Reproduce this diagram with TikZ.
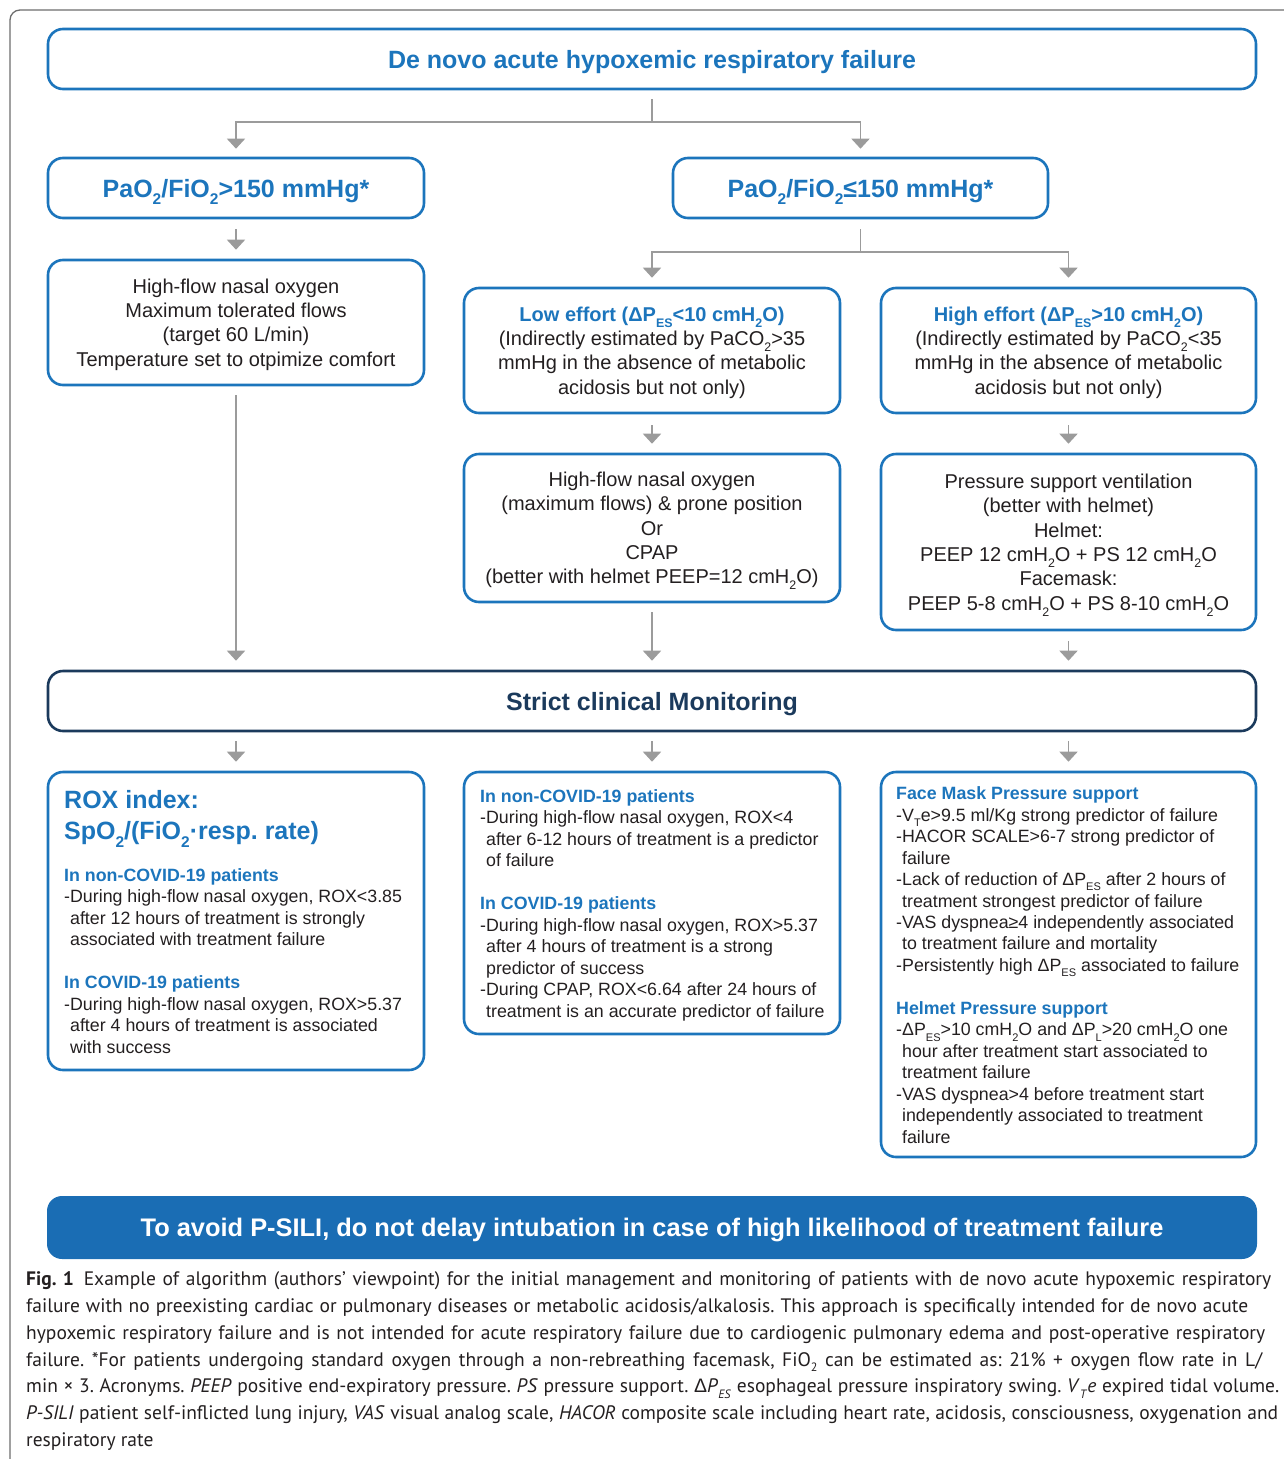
\documentclass[tikz,border=0pt]{standalone}
\usepackage{fontspec}
\usepackage{graphicx}
\setmainfont{Liberation Sans}
\newfontfamily\capfont{PT Sans}
\newfontfamily\lsans{Liberation Sans}
\usetikzlibrary{arrows.meta}
\definecolor{bblue}{HTML}{1C75BC}
\definecolor{navy}{HTML}{1B3A5C}
\definecolor{bannerc}{HTML}{1A6DB4}
\definecolor{agray}{HTML}{9B9B9B}
\definecolor{txt}{HTML}{231F20}
\definecolor{framec}{HTML}{6D6D6D}
\frenchspacing
\newcommand{\sbs}[1]{\raisebox{-0.3em}{\scalebox{0.62}{#1}}}
\newcommand{\bigf}{\fontsize{25pt}{30pt}\selectfont\bfseries}
\newcommand{\bannerf}{\fontsize{25.4pt}{30pt}\selectfont\bfseries}
\newcommand{\bodyf}{\fontsize{20pt}{24.3pt}\selectfont}
\newcommand{\smallf}{\fontsize{17.8pt}{21.45pt}\selectfont}
\newcommand{\roxf}{\fontsize{25pt}{31pt}\selectfont\bfseries}
\newcommand{\capf}{\capfont\fontsize{19.5pt}{26.67pt}\selectfont\frenchspacing}
\newcommand{\hd}[1]{{\bfseries\color{bblue}#1}}
\newcommand{\hp}{\hphantom{-}}
\newcommand{\capline}[2]{\hbox to #1pt{#2}}
\begin{document}
\begin{tikzpicture}[x=1pt,y=-1pt,
  box/.style={draw=bblue, line width=2.6pt, rounded corners=15pt, inner sep=0pt,
    text=txt, align=center, font=\bodyf, text depth=0pt},
  ln/.style={draw=agray, line width=1.8pt},
  arr/.style={draw=agray, line width=1.8pt, -{Triangle[width=18pt,length=10pt]}},
  tblock/.style={inner sep=0pt, align=left, text=txt, anchor=base west},
  frameline/.style={draw=framec, line width=1.3pt, rounded corners=10pt}]
\useasboundingbox (0,0) rectangle (1284,1459);
\draw[frameline] (10,1462) -- (10,10) -- (1290,10);

% boxes
\node[box, minimum width=1208pt, minimum height=60pt, font=\bigf, text=bblue] (title) at (652,59) {De novo acute hypoxemic respiratory failure};
\node[box, minimum width=376pt, minimum height=60pt, font=\bigf, text=bblue] (A) at (236,188) {PaO\sbs{2}/FiO\sbs{2}>150 mmHg*};
\node[box, minimum width=375pt, minimum height=60pt, font=\bigf, text=bblue] (B) at (860.5,188) {PaO\sbs{2}/FiO\sbs{2}≤150 mmHg*};
\node[box, minimum width=376pt, minimum height=125pt] (C) at (236,322.5) {High-flow nasal oxygen\\Maximum tolerated flows\\(target 60 L/min)\\Temperature set to otpimize comfort};
\node[box, minimum width=376pt, minimum height=125pt] (D) at (652,350.5) {\hd{Low effort (ΔP\sbs{ES}<10 cmH\sbs{2}O)}\\(Indirectly estimated by PaCO\sbs{2}>35\\mmHg in the absence of metabolic\\acidosis but not only)};
\node[box, minimum width=375pt, minimum height=125pt] (E) at (1068.5,350.5) {\hd{High effort (ΔP\sbs{ES}>10 cmH\sbs{2}O)}\\(Indirectly estimated by PaCO\sbs{2}<35\\mmHg in the absence of metabolic\\acidosis but not only)};
\node[box, minimum width=376pt, minimum height=148pt] (F) at (652,528) {High-flow nasal oxygen\\(maximum flows) \& prone position\\Or\\CPAP\\(better with helmet PEEP=12 cmH\sbs{2}O)};
\node[box, minimum width=375pt, minimum height=176pt] (G) at (1068.5,542) {Pressure support ventilation\\(better with helmet)\\Helmet:\\PEEP 12 cmH\sbs{2}O + PS 12 cmH\sbs{2}O\\Facemask:\\PEEP 5-8 cmH\sbs{2}O + PS 8-10 cmH\sbs{2}O};
\node[box, draw=navy, minimum width=1208pt, minimum height=60pt, font=\bigf, text=navy] (M) at (652,701) {Strict clinical Monitoring};
\node[box, minimum width=376pt, minimum height=298pt] (R1) at (236,921) {};
\node[box, minimum width=376pt, minimum height=262pt] (R2) at (652,903) {};
\node[box, minimum width=375pt, minimum height=385pt] (R3) at (1068.5,964.5) {};
\node[fill=bannerc, rounded corners=15pt, inner sep=0pt, minimum width=1210pt, minimum height=63pt, text=white, font=\bannerf, text depth=0pt] (ban) at (652,1227.5) {To avoid P-SILI, do not delay intubation in case of high likelihood of treatment failure};

% texts of the lower boxes (anchored at the baseline of their last line)
\node[tblock, font=\roxf, text=bblue] (r1title) at (64,839.5) {ROX index:\\SpO\sbs{2}/(FiO\sbs{2}·resp. rate)};
\node[tblock, font=\smallf] (r1text) at (64,1053) {\hd{In non-COVID-19 patients}\\
-During high-flow nasal oxygen, ROX<3.85\\
\hp after 12 hours of treatment is strongly\\
\hp associated with treatment failure\\[21.45pt]
\hd{In COVID-19 patients}\\
-During high-flow nasal oxygen, ROX>5.37\\
\hp after 4 hours of treatment is associated\\
\hp with success};
\node[tblock, font=\smallf] (r2text) at (480,1017) {\hd{In non-COVID-19 patients}\\
-During high-flow nasal oxygen, ROX<4\\
\hp after 6-12 hours of treatment is a predictor\\
\hp of failure\\[21.45pt]
\hd{In COVID-19 patients}\\
-During high-flow nasal oxygen, ROX>5.37\\
\hp after 4 hours of treatment is a strong\\
\hp predictor of success\\
-During CPAP, ROX<6.64 after 24 hours of\\
\hp treatment is an accurate predictor of failure};
\node[tblock, font=\smallf] (r3text) at (896,1143) {\hd{Face Mask Pressure support}\\
-V\sbs{T}e>9.5 ml/Kg strong predictor of failure\\
-HACOR SCALE>6-7 strong predictor of\\
\hp failure\\
-Lack of reduction of ΔP\sbs{ES} after 2 hours of\\
\hp treatment strongest predictor of failure\\
-VAS dyspnea≥4 independently associated\\
\hp to treatment failure and mortality\\
-Persistently high ΔP\sbs{ES} associated to failure\\[21.45pt]
\hd{Helmet Pressure support}\\
-ΔP\sbs{ES}>10 cmH\sbs{2}O and ΔP\sbs{L}>20 cmH\sbs{2}O one\\
\hp hour after treatment start associated to\\
\hp treatment failure\\
-VAS dyspnea>4 before treatment start\\
\hp independently associated to treatment\\
\hp failure};

% caption (anchored at the baseline of its last line)
\node[tblock, font=\capf, text=txt] (cap) at (26,1446) {\capline{1245}{{\bfseries Fig. 1}\hspace{0.5em}Example of algorithm (authors’ viewpoint) for the initial management and monitoring of patients with de novo acute hypoxemic respiratory}\\
\capline{1222}{failure with no preexisting cardiac or pulmonary diseases or metabolic acidosis/alkalosis. This approach is specifically intended for de novo acute}\\
\capline{1239}{hypoxemic respiratory failure and is not intended for acute respiratory failure due to cardiogenic pulmonary edema and post-operative respiratory}\\
\capline{1236}{failure. *For patients undergoing standard oxygen through a non-rebreathing facemask, FiO\sbs{2} can be estimated as: 21\% + oxygen flow rate in L/}\\
\capline{1253}{min × 3. Acronyms. \textit{PEEP} positive end-expiratory pressure. \textit{PS} pressure support. {\lsans Δ}\textit{P}\sbs{\textit{ES}} esophageal pressure inspiratory swing. \textit{V}\sbs{\textit{T}}\textit{e} expired tidal volume.}\\
\capline{1252}{\textit{P-SILI} patient self-inflicted lung injury, \textit{VAS} visual analog scale, \textit{HACOR} composite scale including heart rate, acidosis, consciousness, oxygenation and}\\
respiratory rate};

% connectors
\coordinate (j1) at (652,122);
\draw[ln] ([yshift=-9pt]title.south) -- (j1);
\draw[arr] (j1) -| ([yshift=8pt]A.north);
\draw[arr] (j1) -| ([yshift=8pt]B.north);
\draw[arr] ([yshift=-10pt]A.south) -- ([yshift=9pt]C.north);
\coordinate (j2) at (860.5,252);
\draw[ln] ([yshift=-10pt]B.south) -- (j2);
\draw[arr] (j2) -| ([yshift=9pt]D.north);
\draw[arr] (j2) -| ([yshift=9pt]E.north);
\draw[arr] ([yshift=-11pt]D.south) -- ([yshift=9pt]F.north);
\draw[arr] ([yshift=-11pt]E.south) -- ([yshift=9pt]G.north);
\coordinate (mC) at (C.south |- M.north);
\coordinate (mF) at (F.south |- M.north);
\coordinate (mG) at (G.south |- M.north);
\draw[arr] ([yshift=-9pt]C.south) -- ([yshift=9pt]mC);
\draw[arr] ([yshift=-9pt]F.south) -- ([yshift=9pt]mF);
\draw[arr] ([yshift=-10pt]G.south) -- ([yshift=9pt]mG);
\coordinate (m1) at (R1.north |- M.south);
\coordinate (m2) at (R2.north |- M.south);
\coordinate (m3) at (R3.north |- M.south);
\draw[arr] ([yshift=-9pt]m1) -- ([yshift=9pt]R1.north);
\draw[arr] ([yshift=-9pt]m2) -- ([yshift=9pt]R2.north);
\draw[arr] ([yshift=-9pt]m3) -- ([yshift=9pt]R3.north);
\end{tikzpicture}
\end{document}
